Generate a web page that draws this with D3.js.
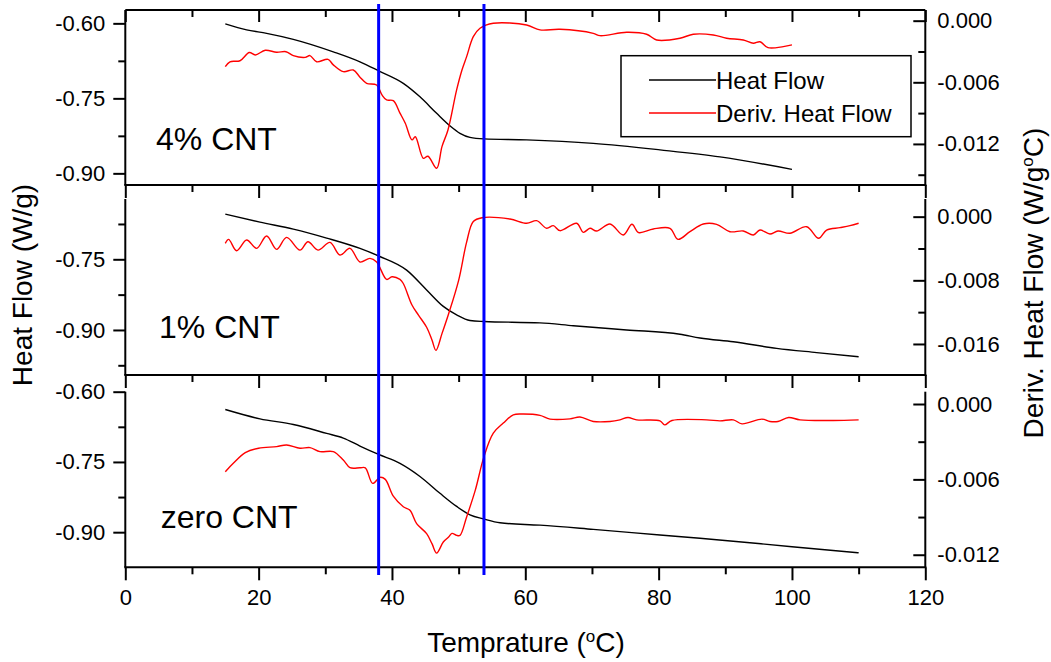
<!DOCTYPE html>
<html><head><meta charset="utf-8">
<script src="https://cdn.jsdelivr.net/npm/d3@7"></script>
<style>
html,body{margin:0;padding:0;background:#fff;}
svg{display:block;font-family:"Liberation Sans",Arial,sans-serif;}
</style></head>
<body>
<svg id="chart" width="1051" height="662"></svg>
<script>
// ---------- DATA ----------
const tempTicks = [0, 20, 40, 60, 80, 100, 120];
const tempMinorTicks = [10, 30, 50, 70, 90, 110];
const panelLabels = ["4% CNT", "1% CNT", "zero CNT"];
const legendLabels = ["Heat Flow", "Deriv. Heat Flow"];
const markerTemps = [38, 53.8];

// Heat flow (W/g) vs temperature (°C)
const heatFlow4 = [[15,-0.601],[18.2,-0.613],[21.2,-0.620],[25.2,-0.632],[31.2,-0.657],[35.2,-0.677],[38,-0.695],[41.7,-0.720],[44.2,-0.747],[46.7,-0.780],[48.7,-0.805],[50.2,-0.820],[51.7,-0.828],[53.8,-0.831],[60.2,-0.833],[70.2,-0.840],[80.2,-0.853],[89.2,-0.867],[100,-0.892]];
const heatFlow1 = [[15,-0.654],[20.2,-0.671],[25.2,-0.686],[30.2,-0.705],[35.2,-0.727],[38,-0.743],[42.2,-0.773],[45.2,-0.815],[47.7,-0.850],[49.7,-0.868],[51.7,-0.880],[53.8,-0.882],[62.2,-0.885],[67.2,-0.891],[75.2,-0.900],[83.2,-0.909],[86.2,-0.917],[91.2,-0.925],[97.7,-0.939],[103.7,-0.948],[110,-0.957]];
const heatFlow0 = [[15,-0.638],[20.2,-0.658],[25.2,-0.670],[30.2,-0.689],[32.7,-0.699],[35.2,-0.716],[38,-0.734],[41.2,-0.753],[44.2,-0.781],[47.2,-0.817],[49.7,-0.845],[51.7,-0.863],[53.8,-0.872],[56.2,-0.880],[62.2,-0.885],[70.2,-0.894],[80.2,-0.906],[86.2,-0.913],[100,-0.931],[110,-0.944]];

// Derivative heat flow (W/g°C) vs temperature (°C)
const deriv4 = [[15,-0.00448],[15.7,-0.0040],[17.2,-0.0039],[18.6,-0.0031],[19.5,-0.00334],[21,-0.00288],[22.7,-0.00308],[24.1,-0.00302],[25.2,-0.0034],[27,-0.00357],[27.7,-0.0034],[28.7,-0.0040],[30.4,-0.00376],[31.2,-0.0043],[32.7,-0.00496],[34.2,-0.0048],[35.2,-0.0055],[36.2,-0.0061],[37.7,-0.00626],[38.5,-0.00723],[39.2,-0.00772],[40.2,-0.00779],[41.2,-0.009],[42,-0.00999],[43,-0.0116],[43.5,-0.0113],[44.7,-0.0134],[45.4,-0.0132],[46.7,-0.01437],[47.5,-0.01226],[48.4,-0.01064],[49.7,-0.00674],[50.5,-0.0048],[51.2,-0.0035],[52.2,-0.00156],[53.2,-0.00074],[55.2,-0.00025],[60.2,-0.00042],[62.2,-0.0009],[65.2,-0.00084],[70.2,-0.00123],[71.2,-0.00146],[75.2,-0.00113],[78.2,-0.00132],[79.7,-0.00188],[83.2,-0.00171],[85.2,-0.00132],[88.2,-0.00139],[90.2,-0.00171],[92.7,-0.00188],[94.2,-0.0022],[95.2,-0.00205],[96.4,-0.00263],[98.7,-0.00253],[100,-0.00236]];
const deriv1 = [[15,-0.00335],[15.5,-0.00285],[16.7,-0.00428],[18.2,-0.00293],[19.7,-0.00398],[21.2,-0.00243],[22.7,-0.00411],[24.2,-0.0026],[26.2,-0.0042],[27.4,-0.00315],[28.9,-0.0042],[30.7,-0.00323],[32.2,-0.00482],[33.7,-0.00398],[35.2,-0.0057],[36.7,-0.00524],[37.7,-0.0057],[39.2,-0.00789],[40,-0.00756],[41.2,-0.00789],[41.7,-0.0084],[43,-0.0111],[44,-0.0124],[45.2,-0.0139],[46,-0.0155],[46.6,-0.0168],[47.5,-0.0147],[48.5,-0.0122],[50,-0.008],[51.2,-0.0032],[52.2,-0.0006],[53.5,-0.00013],[57.7,-0.0003],[60.2,-0.00083],[61.7,-0.0005],[63.2,-0.00146],[64.2,-0.00113],[65.2,-0.00176],[67.7,-0.00083],[68.7,-0.00197],[69.7,-0.00146],[70.7,-0.0018],[72.7,-0.00092],[74.7,-0.0023],[76,-0.00096],[77,-0.002],[79.2,-0.00155],[81.7,-0.00146],[82.9,-0.00285],[84.7,-0.00189],[86.7,-0.00092],[88.7,-0.00096],[90.7,-0.00189],[92.7,-0.0018],[94.2,-0.0023],[95.2,-0.00168],[96.7,-0.00218],[97.9,-0.0018],[99.7,-0.00209],[102.2,-0.00126],[104,-0.00272],[105.2,-0.00168],[107.2,-0.00138],[108.7,-0.00113],[110,-0.00083]];
const deriv0 = [[15,-0.00539],[16.2,-0.00472],[18,-0.00387],[20,-0.00352],[22.7,-0.00339],[24.2,-0.00326],[26.2,-0.00352],[27.7,-0.00347],[29.2,-0.00379],[31.2,-0.00379],[32.7,-0.00446],[33.7,-0.00507],[35.2,-0.00508],[36,-0.00508],[37.1,-0.00632],[38.2,-0.00584],[39,-0.006],[40.2,-0.00734],[41.7,-0.00818],[42.7,-0.00846],[43.7,-0.00952],[45.2,-0.01032],[46,-0.01112],[46.7,-0.01187],[47.7,-0.01099],[48.5,-0.01059],[49,-0.0103],[49.7,-0.01046],[50.2,-0.01046],[51.2,-0.00899],[52.5,-0.00686],[53.8,-0.00419],[55.2,-0.00232],[56.7,-0.00152],[58.2,-0.00086],[59.7,-0.0008],[62.2,-0.00091],[63.7,-0.0012],[66.7,-0.00118],[68.2,-0.00104],[70.2,-0.00139],[72.7,-0.00139],[74.2,-0.00126],[75.4,-0.00107],[76.7,-0.00126],[80.2,-0.00134],[80.9,-0.00166],[82,-0.00131],[87.2,-0.00126],[89.2,-0.00134],[91.2,-0.00126],[92.5,-0.00158],[95.5,-0.0012],[96.7,-0.00139],[97.9,-0.00139],[99.5,-0.00107],[101.2,-0.00126],[106.2,-0.00131],[110,-0.00126]];

// axis ranges and ticks per panel
const leftDomains = [[-0.9233,-0.5733],[-0.9956,-0.622],[-0.975,-0.60]];
const rightDomains = [[-0.016,0.00104],[-0.0199,0.00222],[-0.013,0.00098]];
const leftTicks = [[-0.60,-0.75,-0.90],[-0.75,-0.90],[-0.60,-0.75,-0.90]];
const leftMinorTicks = [[-0.675,-0.825],[-0.675,-0.825,-0.975],[-0.675,-0.825]];
const rightTicks = [[0,-0.006,-0.012],[0,-0.008,-0.016],[0,-0.006,-0.012]];
const rightMinorTicks = [[-0.003,-0.009,-0.015],[-0.004,-0.012],[-0.003,-0.009]];

// ---------- LAYOUT ----------
const svg = d3.select("#chart");
const X0 = 125.3, X1 = 925.3;
const panelTops = [10, 199, 391.7];
const panelBottoms = [185, 375, 567.3];
const x = d3.scaleLinear().domain([0,120]).range([X0, X1]);
const AX = "#000", AW = 2;
const hyphenFmt = spec => { const f = d3.format(spec); return d => f(d).replace("\u2212", "-"); };

const heat = [heatFlow4, heatFlow1, heatFlow0];
const deriv = [deriv4, deriv1, deriv0];
const labelBase = [150, 338.3, 528.3];
const labelX = [156, 159, 160.7];

function styleAxis(g){
  g.select(".domain").remove();
  g.selectAll(".tick line").attr("stroke", AX).attr("stroke-width", AW);
  g.selectAll(".tick text").attr("fill", "#000").style("font-size","22px")
   .style("font-family",'"Liberation Sans",Arial,sans-serif');
}

for (let i = 0; i < 3; i++) {
  const top = panelTops[i], bot = panelBottoms[i];
  const yL = d3.scaleLinear().domain(leftDomains[i]).range([bot, top]);
  const yR = d3.scaleLinear().domain(rightDomains[i]).range([bot, top]);
  const g = svg.append("g");

  const clipId = "clip" + i;
  svg.append("clipPath").attr("id", clipId).append("rect")
    .attr("x", X0).attr("y", top).attr("width", X1 - X0).attr("height", bot - top);

  // curves
  g.append("path").datum(heat[i]).attr("clip-path", `url(#${clipId})`)
    .attr("fill","none").attr("stroke","#000").attr("stroke-width",1.4)
    .attr("d", d3.line().x(d=>x(d[0])).y(d=>yL(d[1])).curve(d3.curveMonotoneX));
  g.append("path").datum(deriv[i]).attr("clip-path", `url(#${clipId})`)
    .attr("fill","none").attr("stroke","#ff0000").attr("stroke-width",1.4)
    .attr("d", d3.line().x(d=>x(d[0])).y(d=>yR(d[1])).curve(d3.curveCatmullRom.alpha(0.5)));

  // left axis (outward ticks)
  g.append("g").attr("transform",`translate(${X0},0)`)
    .call(d3.axisLeft(yL).tickValues(leftTicks[i]).tickSize(12).tickPadding(8).tickFormat(hyphenFmt(".2f")))
    .call(styleAxis);
  g.append("g").attr("transform",`translate(${X0},0)`)
    .call(d3.axisLeft(yL).tickValues(leftMinorTicks[i]).tickSize(7).tickFormat(""))
    .call(styleAxis);
  // right axis (inward ticks)
  g.append("g").attr("transform",`translate(${X1},0)`)
    .call(d3.axisRight(yR).tickValues(rightTicks[i]).tickSize(-12).tickPadding(12).tickFormat(hyphenFmt(".3f")))
    .call(styleAxis);
  g.append("g").attr("transform",`translate(${X1},0)`)
    .call(d3.axisRight(yR).tickValues(rightMinorTicks[i]).tickSize(-7).tickFormat(""))
    .call(styleAxis);
  // bottom axis (outward ticks)
  g.append("g").attr("transform",`translate(0,${bot})`)
    .call(d3.axisBottom(x).tickValues(tempTicks).tickSize(13).tickPadding(9)
      .tickFormat(i === 2 ? d3.format("d") : ""))
    .call(styleAxis);
  g.append("g").attr("transform",`translate(0,${bot})`)
    .call(d3.axisBottom(x).tickValues(tempMinorTicks).tickSize(7).tickFormat(""))
    .call(styleAxis);
  if (i === 0) {
    // top axis of top panel (inward ticks)
    g.append("g").attr("transform",`translate(0,${top})`)
      .call(d3.axisTop(x).tickValues(tempTicks).tickSize(-12).tickFormat(""))
      .call(styleAxis);
    g.append("g").attr("transform",`translate(0,${top})`)
      .call(d3.axisTop(x).tickValues(tempMinorTicks).tickSize(-7).tickFormat(""))
      .call(styleAxis);
    g.append("line").attr("x1",X0).attr("x2",X1).attr("y1",top).attr("y2",top)
      .attr("stroke",AX).attr("stroke-width",AW);
  }
  // spines
  g.append("line").attr("x1",X0).attr("x2",X0).attr("y1",top).attr("y2",bot).attr("stroke",AX).attr("stroke-width",AW);
  g.append("line").attr("x1",X1).attr("x2",X1).attr("y1",top).attr("y2",bot).attr("stroke",AX).attr("stroke-width",AW);
  g.append("line").attr("x1",X0-1).attr("x2",X1+1).attr("y1",bot).attr("y2",bot).attr("stroke",AX).attr("stroke-width",AW);

  // panel label
  g.append("text").attr("x", labelX[i]).attr("y", labelBase[i])
    .style("font-size","32px").attr("fill","#000").text(panelLabels[i]);
}

// legend (top panel)
const lg = svg.append("g");
lg.append("rect").attr("x",621).attr("y",55.7).attr("width",290).attr("height",81)
  .attr("fill","#fff").attr("stroke","#000").attr("stroke-width",1.5);
const legColors = ["#000","#ff0000"];
legendLabels.forEach((t, k) => {
  const yy = 80 + k * 33;
  lg.append("line").attr("x1",649).attr("x2",716).attr("y1",yy).attr("y2",yy)
    .attr("stroke",legColors[k]).attr("stroke-width",1.4);
  lg.append("text").attr("x",716).attr("y",yy+8.5).style("font-size","24px").attr("fill","#000").text(t);
});

// blue marker lines
svg.selectAll("line.marker").data(markerTemps).enter().append("line")
  .attr("class","marker")
  .attr("x1", d=>x(d)).attr("x2", d=>x(d)).attr("y1", 4).attr("y2", 575)
  .attr("stroke","#0000ff").attr("stroke-width",3);

// axis titles
const xt = svg.append("text").attr("x", 526).attr("y", 652).attr("text-anchor","middle")
  .style("font-size","28px").attr("fill","#000");
xt.append("tspan").text("Temprature (");
xt.append("tspan").attr("dy", -10).style("font-size","17px").text("o");
xt.append("tspan").attr("dy", 10).text("C)");

svg.append("text").attr("transform","translate(32,285) rotate(-90)").attr("text-anchor","middle")
  .style("font-size","28px").attr("fill","#000").text("Heat Flow (W/g)");

const yt = svg.append("text").attr("transform","translate(1043,283) rotate(-90)").attr("text-anchor","middle")
  .style("font-size","28px").attr("fill","#000");
yt.append("tspan").text("Deriv. Heat Flow (W/g");
yt.append("tspan").attr("dy", -10).style("font-size","17px").text("o");
yt.append("tspan").attr("dy", 10).text("C)");
</script>
</body></html>
